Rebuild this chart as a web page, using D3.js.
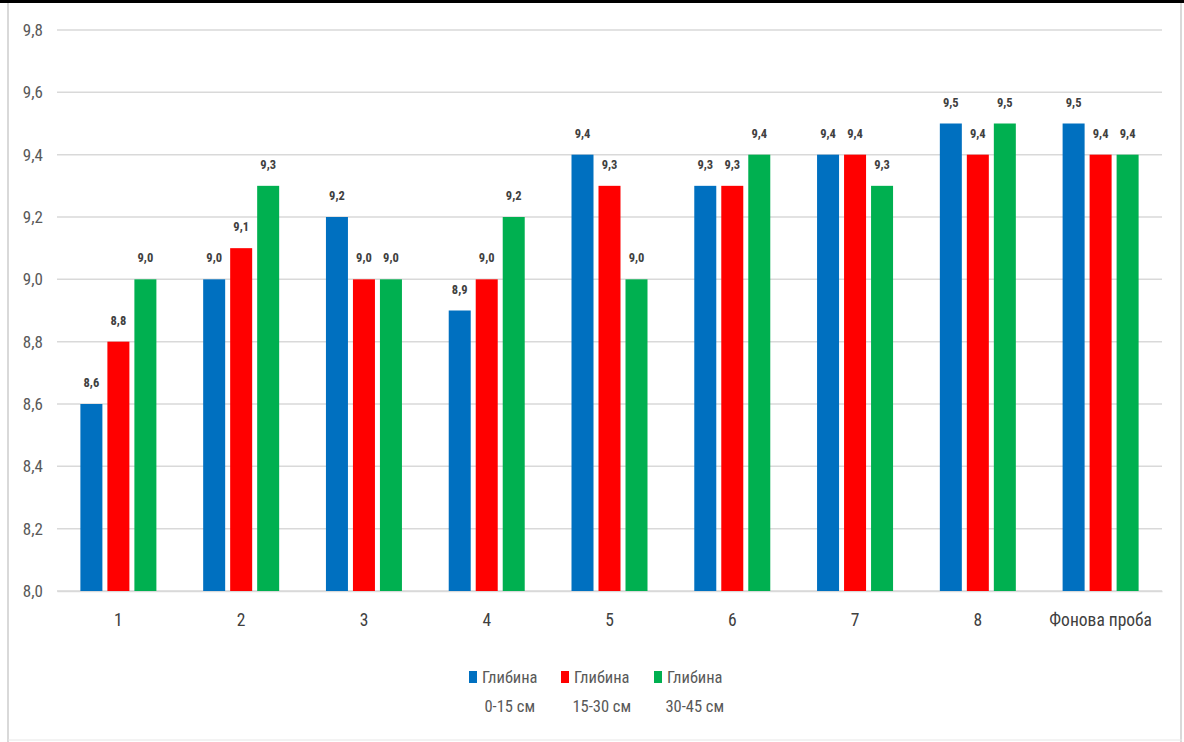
<!DOCTYPE html>
<html>
<head>
<meta charset="utf-8">
<script src="https://cdn.jsdelivr.net/npm/d3@7/dist/d3.min.js"></script>
<style>
  html, body { margin: 0; padding: 0; background: #fff; }
  svg { display: block; }
  text { font-family: "Liberation Sans Narrow", "Arial Narrow", "Roboto Condensed", "Liberation Sans", sans-serif; }
</style>
</head>
<body>
<svg id="chart" width="1184" height="742"></svg>
<script>
// Sample points and pH values by sampling depth
const categories = ["1", "2", "3", "4", "5", "6", "7", "8", "Фонова проба"];
const depth0_15  = [8.6, 9.0, 9.2, 8.9, 9.4, 9.3, 9.4, 9.5, 9.5];
const depth15_30 = [8.8, 9.1, 9.0, 9.0, 9.3, 9.3, 9.4, 9.4, 9.4];
const depth30_45 = [9.0, 9.3, 9.0, 9.2, 9.0, 9.4, 9.3, 9.5, 9.4];
const seriesNames = [["Глибина", "0-15 см"], ["Глибина", "15-30 см"], ["Глибина", "30-45 см"]];
const seriesColors = ["#0070C0", "#FF0000", "#00B050"];
const yTicks = [8.0, 8.2, 8.4, 8.6, 8.8, 9.0, 9.2, 9.4, 9.6, 9.8];

const series = [depth0_15, depth15_30, depth30_45];
const fmt = v => d3.format(".1f")(v).replace(".", ",");

const svg = d3.select("#chart");

// Outer frame
svg.append("rect").attr("x", 0).attr("y", 0).attr("width", 1184).attr("height", 742).attr("fill", "#fff");
svg.append("line").attr("x1", 8).attr("x2", 8).attr("y1", 0).attr("y2", 742).attr("stroke", "#d9d9d9").attr("stroke-width", 2);
svg.append("line").attr("x1", 1181).attr("x2", 1181).attr("y1", 0).attr("y2", 742).attr("stroke", "#d9d9d9").attr("stroke-width", 2);
svg.append("line").attr("x1", 8).attr("x2", 1182).attr("y1", 740).attr("y2", 740).attr("stroke", "#e6e6e6").attr("stroke-width", 1);
svg.append("line").attr("x1", 0).attr("x2", 1184).attr("y1", 1.5).attr("y2", 1.5).attr("stroke", "#000").attr("stroke-width", 3);

const plot = { left: 57, right: 1162, top: 30, bottom: 591 };

const x = d3.scaleBand().domain(categories).range([plot.left, plot.right]).paddingInner(0).paddingOuter(0);
const y = d3.scaleLinear().domain([8.0, 9.8]).range([plot.bottom, plot.top]);

// Gridlines
svg.append("g")
  .selectAll("line")
  .data(yTicks)
  .join("line")
  .attr("x1", plot.left).attr("x2", plot.right)
  .attr("y1", d => y(d)).attr("y2", d => y(d))
  .attr("stroke", "#d9d9d9").attr("stroke-width", 1.5);

// Y axis labels
const yAxis = d3.axisLeft(y).tickValues(yTicks).tickFormat(fmt).tickSize(0).tickPadding(14);
const yg = svg.append("g").attr("transform", `translate(${plot.left},0)`).call(yAxis);
yg.select(".domain").remove();
yg.selectAll("text").attr("fill", "#595959").attr("font-size", 17);

// X axis labels
const xAxis = d3.axisBottom(x).tickSize(0).tickPadding(23);
const xg = svg.append("g").attr("transform", `translate(0,${plot.bottom})`).call(xAxis);
xg.select(".domain").attr("stroke", "#d9d9d9").attr("stroke-width", 1.5);
xg.selectAll("text").attr("fill", "#404040").attr("font-size", 17.5);

// Bars
const barW = 22, gap = 5;
const inner = d3.scaleBand().domain([0, 1, 2]).range([0, 3 * barW + 2 * gap]).paddingInner(gap / (barW + gap));
const groupW = 3 * barW + 2 * gap;

series.forEach((vals, si) => {
  const g = svg.append("g");
  g.selectAll("rect")
    .data(vals.map((v, i) => ({ v, c: categories[i] })))
    .join("rect")
    .attr("x", d => x(d.c) + x.bandwidth() / 2 - groupW / 2 + inner(si))
    .attr("width", inner.bandwidth())
    .attr("y", d => y(d.v))
    .attr("height", d => y(8.0) - y(d.v))
    .attr("fill", seriesColors[si]);
  g.selectAll("text")
    .data(vals.map((v, i) => ({ v, c: categories[i] })))
    .join("text")
    .attr("x", d => x(d.c) + x.bandwidth() / 2 - groupW / 2 + inner(si) + inner.bandwidth() / 2)
    .attr("y", d => y(d.v) - 17)
    .attr("text-anchor", "middle")
    .attr("font-size", 12.5)
    .attr("font-weight", "bold")
    .attr("fill", "#404040")
    .text(d => fmt(d.v));
});

// Legend: swatch, first line beside it, second line centred under the first
const legendX = [469, 561, 654];
const legend = svg.append("g");
seriesNames.forEach((nm, i) => {
  const lx = legendX[i];
  legend.append("rect").attr("x", lx).attr("y", 671).attr("width", 8).attr("height", 12).attr("fill", seriesColors[i]);
  const t = legend.append("text").attr("x", lx + 13).attr("y", 683).attr("font-size", 16.5).attr("fill", "#595959").text(nm[0]);
  const w = t.node().getComputedTextLength();
  legend.append("text").attr("x", lx + 13 + w / 2).attr("y", 712).attr("text-anchor", "middle").attr("font-size", 16.5).attr("fill", "#595959").text(nm[1]);
});
</script>
</body>
</html>
